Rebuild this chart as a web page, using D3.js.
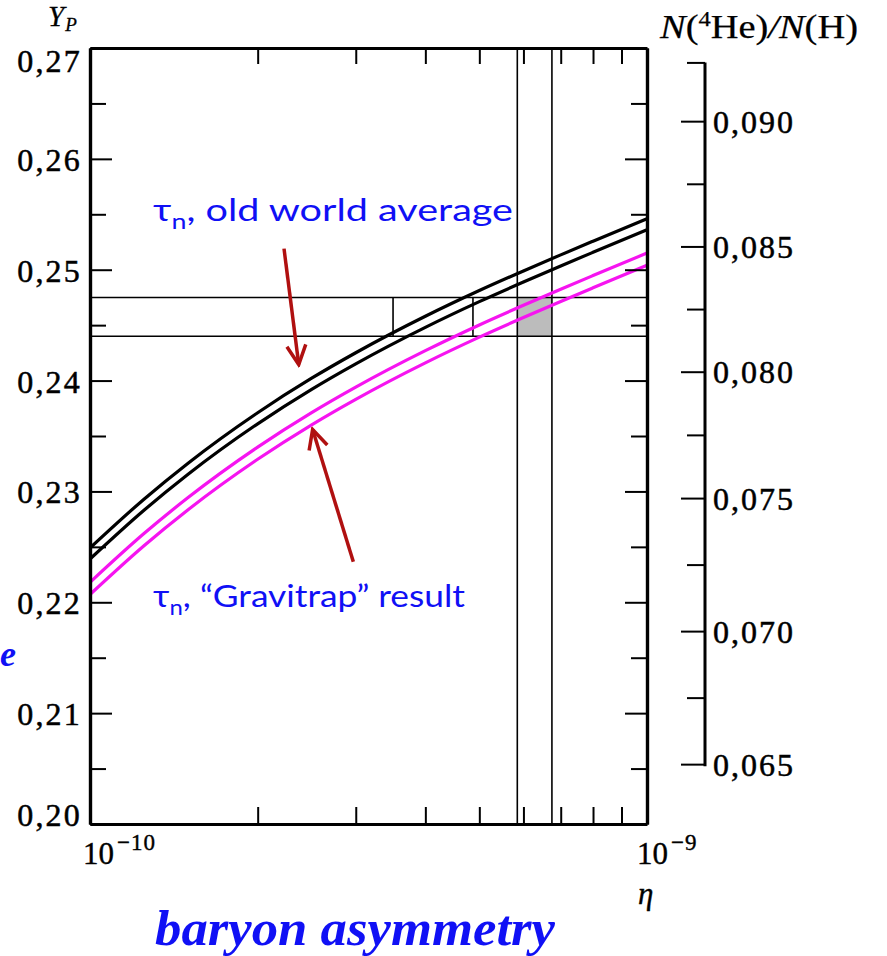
<!DOCTYPE html>
<html>
<head>
<meta charset="utf-8">
<script src="https://cdn.jsdelivr.net/npm/d3@7"></script>
<style>
  body { margin: 0; background: #fff; }
  svg { display: block; }
</style>
</head>
<body>
<svg id="chart" width="887" height="956"></svg>
<script>
// Baryon-to-photon ratio grid
const eta = [1e-10, 1.25e-10, 1.5e-10, 2e-10, 2.5e-10, 3e-10, 4e-10, 5e-10, 6e-10, 7e-10, 8e-10, 1e-9];
// Primordial helium mass fraction Y_P, old world-average neutron lifetime (band edges)
const ypOldUpper = [0.22490, 0.22930, 0.23255, 0.23710, 0.24021, 0.24251, 0.24580, 0.24812, 0.24989, 0.25134, 0.25257, 0.25460];
const ypOldLower = [0.22390, 0.22830, 0.23155, 0.23610, 0.23921, 0.24151, 0.24480, 0.24712, 0.24889, 0.25034, 0.25157, 0.25360];
// Y_P with the "Gravitrap" neutron lifetime (band edges)
const ypGravUpper = [0.22180, 0.22620, 0.22945, 0.23400, 0.23711, 0.23941, 0.24270, 0.24502, 0.24679, 0.24824, 0.24947, 0.25150];
const ypGravLower = [0.22070, 0.22510, 0.22835, 0.23290, 0.23601, 0.23831, 0.24160, 0.24392, 0.24569, 0.24714, 0.24837, 0.25040];

// Observed Y_P interval and resulting eta interval
const ypBand = [0.2440, 0.2475];
const etaBand = [5.85e-10, 6.75e-10];
const etaCross = [3.5e-10, 4.87e-10];

// Axis ticks
const ypTicks = [0.20, 0.21, 0.22, 0.23, 0.24, 0.25, 0.26, 0.27];
const ypMinor = [0.205, 0.215, 0.225, 0.235, 0.245, 0.255, 0.265];
const etaMinor = [2e-10, 3e-10, 4e-10, 5e-10, 6e-10, 7e-10, 8e-10, 9e-10];
const etaDecades = [1e-10, 1e-9];
const decadeExp = ["\u221210", "\u22129"];

// Number ratio N(4He)/N(H) and the matching Y_P values
const heTicks = [0.065, 0.070, 0.075, 0.080, 0.085, 0.090];
const heMinor = [0.0675, 0.0725, 0.0775, 0.0825, 0.0875, 0.0925];
const heRatio = [0.065, 0.070, 0.075, 0.080, 0.085, 0.090, 0.0925];
const heRatioAsYp = [0.2054, 0.2174, 0.2294, 0.2408, 0.2521, 0.2634, 0.2687];

// Annotation arrows (tail, head) in data units
const arrowOld = [[2.23e-10, 0.2519], [2.37e-10, 0.24145]];
const arrowGrav = [[2.97e-10, 0.22366], [2.51e-10, 0.23558]];

const svg = d3.select("#chart");
const mLeft = 90, mRight = 647, mTop = 48, mBottom = 824;

const x = d3.scaleLog().domain([1e-10, 1e-9]).range([mLeft, mRight]);
const y = d3.scaleLinear().domain([0.20, 0.27]).range([mBottom, mTop]);
const yHe = d3.scaleLinear().domain(heRatio).range(heRatioAsYp.map(y));

const comma = f => v => d3.format(f)(v).replace(".", ",");
const serif = "'Liberation Serif', 'Times New Roman', serif";
const blue = "#1010f5";
const red = "#b01010";

svg.append("clipPath").attr("id", "plot")
  .append("rect").attr("x", mLeft).attr("y", mTop)
  .attr("width", mRight - mLeft).attr("height", mBottom - mTop);

const plot = svg.append("g").attr("clip-path", "url(#plot)");

// shaded overlap of the two bands
plot.append("rect")
  .attr("x", x(etaBand[0])).attr("y", y(ypBand[1]))
  .attr("width", x(etaBand[1]) - x(etaBand[0]))
  .attr("height", y(ypBand[0]) - y(ypBand[1]))
  .attr("fill", "#bcbcbc");

// horizontal Y_P limits
plot.selectAll("line.hband").data(ypBand).join("line")
  .attr("class", "hband")
  .attr("x1", mLeft).attr("x2", mRight)
  .attr("y1", d => y(d)).attr("y2", d => y(d))
  .attr("stroke", "#000").attr("stroke-width", 1.6);

// vertical eta limits
plot.selectAll("line.vband").data(etaBand).join("line")
  .attr("class", "vband")
  .attr("x1", d => x(d)).attr("x2", d => x(d))
  .attr("y1", mTop).attr("y2", mBottom)
  .attr("stroke", "#000").attr("stroke-width", 1.6);

// crossings of the old curves with the Y_P interval
plot.selectAll("line.cross").data(etaCross).join("line")
  .attr("class", "cross")
  .attr("x1", d => x(d)).attr("x2", d => x(d))
  .attr("y1", y(ypBand[1])).attr("y2", y(ypBand[0]))
  .attr("stroke", "#000").attr("stroke-width", 1.6);

// helium curves
const line = d3.line().x(d => x(d[0])).y(d => y(d[1])).curve(d3.curveMonotoneX);
const curves = [
  { v: ypOldUpper, c: "#000" },
  { v: ypOldLower, c: "#000" },
  { v: ypGravUpper, c: "#f614f0" },
  { v: ypGravLower, c: "#f614f0" }
];
plot.selectAll("path.curve").data(curves).join("path")
  .attr("class", "curve")
  .attr("d", d => line(eta.map((e, i) => [e, d.v[i]])))
  .attr("fill", "none").attr("stroke", d => d.c).attr("stroke-width", 3.2);

// axes
function style(g, w) {
  g.select(".domain").attr("stroke-width", w);
  g.selectAll(".tick line").attr("stroke-width", 2);
  g.selectAll("text").attr("font-family", serif).attr("fill", "#000");
}

const gl = svg.append("g").attr("transform", `translate(${mLeft},0)`)
  .call(d3.axisLeft(y).tickValues(ypTicks).tickSizeInner(-22).tickSizeOuter(0)
    .tickPadding(8).tickFormat(comma(".2f")));
style(gl, 3.2);
gl.selectAll("text").attr("font-size", 32).attr("letter-spacing", 2.2)
  .attr("stroke", "#000").attr("stroke-width", 0.5)
  .attr("y", d => d === 0.27 ? 12 : d === 0.20 ? -10 : 0)
  .attr("dy", "0.36em");

svg.append("g").attr("transform", `translate(${mLeft},0)`)
  .call(d3.axisLeft(y).tickValues(ypMinor).tickSizeInner(-16).tickSizeOuter(0).tickFormat(""))
  .call(g => style(g, 3.2));

svg.append("g").attr("transform", `translate(${mRight},0)`)
  .call(d3.axisRight(y).tickValues(ypTicks).tickSizeInner(-22).tickSizeOuter(0).tickFormat(""))
  .call(g => style(g, 3.2));
svg.append("g").attr("transform", `translate(${mRight},0)`)
  .call(d3.axisRight(y).tickValues(ypMinor).tickSizeInner(-16).tickSizeOuter(0).tickFormat(""))
  .call(g => style(g, 3.2));

svg.append("g").attr("transform", `translate(0,${mTop})`)
  .call(d3.axisTop(x).tickValues(etaMinor).tickSizeInner(-16).tickSizeOuter(0).tickFormat(""))
  .call(g => style(g, 3.2));
svg.append("g").attr("transform", `translate(0,${mBottom})`)
  .call(d3.axisBottom(x).tickValues(etaMinor).tickSizeInner(-17).tickSizeOuter(0).tickFormat(""))
  .call(g => style(g, 3.2));

// decade labels 10^-10, 10^-9
const dec = svg.selectAll("text.dec").data(etaDecades).join("text")
  .attr("class", "dec")
  .attr("x", (d, i) => x(d) - (i === 0 ? 7 : 10))
  .attr("y", mBottom + 40)
  .attr("font-family", serif).attr("font-size", 31).attr("fill", "#000")
  .attr("stroke", "#000").attr("stroke-width", 0.4);
dec.append("tspan").text("10");
dec.append("tspan").attr("dy", -14).attr("font-size", 23).attr("dx", 3)
  .attr("letter-spacing", 1).text((d, i) => decadeExp[i]);

svg.append("text").attr("x", x(1e-9) - 9).attr("y", mBottom + 80)
  .attr("font-family", serif).attr("font-style", "italic").attr("font-size", 31)
  .attr("stroke", "#000").attr("stroke-width", 0.4)
  .text("\u03B7");

// Y_P title
const yt = svg.append("text").attr("x", mLeft - 42).attr("y", 26)
  .attr("font-family", serif).attr("font-style", "italic").attr("font-size", 29)
  .attr("stroke", "#000").attr("stroke-width", 0.3);
yt.append("tspan").text("Y");
yt.append("tspan").attr("font-size", 19).attr("dy", 5).attr("dx", 1).text("P");

// right axis: N(4He)/N(H)
const rx = 705;
const gr = svg.append("g").attr("transform", `translate(${rx},0)`)
  .call(d3.axisLeft(yHe).tickValues(heTicks).tickSizeInner(24).tickSizeOuter(0).tickFormat(""));
style(gr, 3);
gr.select(".domain").remove();
gr.append("line").attr("x1", 0).attr("x2", 0)
  .attr("y1", yHe(0.0925)).attr("y2", yHe(0.065) + 2)
  .attr("stroke", "#000").attr("stroke-width", 3);
svg.append("g").attr("transform", `translate(${rx},0)`)
  .call(d3.axisLeft(yHe).tickValues(heMinor).tickSizeInner(18).tickSizeOuter(0).tickFormat(""))
  .call(g => { style(g, 3); g.select(".domain").remove(); });

svg.selectAll("text.he").data(heTicks).join("text")
  .attr("class", "he")
  .attr("x", rx + 8).attr("y", d => yHe(d)).attr("dy", "0.36em")
  .attr("font-family", serif).attr("font-size", 32).attr("letter-spacing", 2)
  .attr("stroke", "#000").attr("stroke-width", 0.5)
  .text(comma(".3f"));

const rt = svg.append("text").attr("x", 660).attr("y", 38)
  .attr("font-family", serif).attr("font-size", 33)
  .attr("stroke", "#000").attr("stroke-width", 0.25)
  .attr("textLength", 198).attr("lengthAdjust", "spacingAndGlyphs");
rt.append("tspan").attr("font-style", "italic").text("N");
rt.append("tspan").text("(");
rt.append("tspan").attr("font-size", 21).attr("dy", -12).text("4");
rt.append("tspan").attr("dy", 12).text("He)");
rt.append("tspan").attr("font-style", "italic").text("/N");
rt.append("tspan").text("(H)");

// annotations
const sans = "Lato, 'Open Sans', 'DejaVu Sans', sans-serif";
function tauLabel(xp, yp, rest, len) {
  const t = svg.append("text").attr("x", xp).attr("y", yp)
    .attr("font-family", sans).attr("font-size", 31).attr("fill", blue)
    .attr("textLength", len).attr("lengthAdjust", "spacingAndGlyphs");
  t.append("tspan").text("\u03C4");
  t.append("tspan").attr("font-size", 21).attr("dy", 8).text("n");
  t.append("tspan").attr("dy", -8).text(rest);
  return t;
}
tauLabel(153, 221, ", old world average", 360);
tauLabel(153, 607, ", \u201CGravitrap\u201D result", 312);

svg.append("defs").append("marker")
  .attr("id", "head").attr("viewBox", "0 0 24 24")
  .attr("markerUnits", "userSpaceOnUse")
  .attr("refX", 21).attr("refY", 12)
  .attr("markerWidth", 24).attr("markerHeight", 24)
  .attr("orient", "auto")
  .append("path").attr("d", "M2,2.5 L21,12 L2,21.5")
  .attr("fill", "none").attr("stroke", red).attr("stroke-width", 3.5)
  .attr("stroke-linejoin", "miter");

svg.selectAll("line.arrow").data([arrowOld, arrowGrav]).join("line")
  .attr("class", "arrow")
  .attr("x1", d => x(d[0][0])).attr("y1", d => y(d[0][1]))
  .attr("x2", d => x(d[1][0])).attr("y2", d => y(d[1][1]))
  .attr("stroke", red).attr("stroke-width", 3.5)
  .attr("marker-end", "url(#head)");

// bottom caption
svg.append("text").attr("x", 155).attr("y", 945)
  .attr("font-family", serif).attr("font-style", "italic").attr("font-weight", "bold")
  .attr("font-size", 50).attr("fill", blue)
  .attr("textLength", 400).attr("lengthAdjust", "spacingAndGlyphs")
  .text("baryon asymmetry");

svg.append("text").attr("x", 0).attr("y", 666)
  .attr("font-family", serif).attr("font-style", "italic").attr("font-weight", "bold")
  .attr("font-size", 36).attr("fill", blue)
  .text("e");
</script>
</body>
</html>
